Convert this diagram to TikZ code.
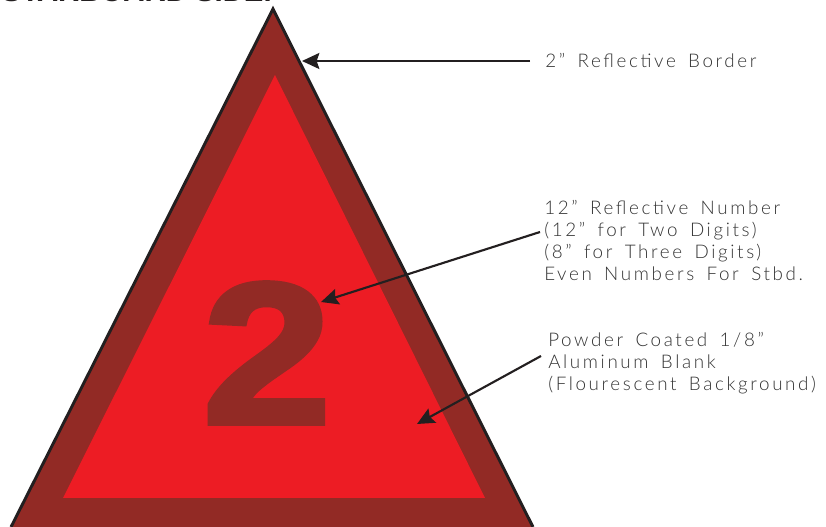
\documentclass[tikz,border=0pt]{standalone}
\usepackage{fontspec}
\usepackage{xcolor}
\usetikzlibrary{arrows.meta}
\setmainfont{Liberation Sans}
\newfontfamily\notefont[LetterSpace=14,WordSpace=1.6]{Lato Light}
\newfontfamily\digitfont[FakeBold=2.5]{Liberation Sans Bold}
\definecolor{signred}{HTML}{ED1C24}
\definecolor{borderred}{HTML}{922A25}
\definecolor{inkblack}{HTML}{231F20}
\begin{document}
\begin{tikzpicture}[
  x=0.75pt,y=-0.75pt,
  note/.style={anchor=north west,align=left,inner sep=0pt,font=\notefont\fontsize{14.1}{16.4}\selectfont,text=black!80},
  arr/.style={-{Stealth[length=13pt,width=12pt,inset=2pt]},draw=inkblack,line width=1.6pt}
]
\useasboundingbox (0,0) rectangle (826,527);
\fill[borderred] (273,9) -- (533,527) -- (11,527) -- cycle;
\draw[inkblack,line width=2.2pt] (11,527) -- (273,9) -- (533,527);
\fill[signred] (275,75) -- (485,498) -- (63,498) -- cycle;
\node[inner sep=0pt,anchor=center,xscale=1.15,transform shape,text=borderred,font=\digitfont\fontsize{151}{151}\selectfont] (digit) at (267,353) {2};
\node[anchor=base east,inner sep=0pt,font=\bfseries\fontsize{22}{22}\selectfont,text=inkblack] (title) at (272,2) {STARBOARD SIDE.};
% labels
\node[note] (border) at (545,53) {2” Reflective Border};
\node[note] (number) at (544,200) {12” Reflective Number\\(12” for Two Digits)\\(8” for Three Digits)\\Even Numbers For Stbd.};
\node[note] (blank) at (548,332) {Powder Coated 1/8”\\Aluminum Blank\\(Flourescent Background)};
\coordinate (bordertip) at (302,61);
\coordinate (numbertip) at (321,302);
\coordinate (blanktip) at (417,424);
\coordinate (bordertail) at (530,61);
\coordinate (numbertail) at (540,232);
\coordinate (blanktail) at (541,356);
\draw[arr] (bordertail) -- (bordertip);
\draw[arr] (numbertail) -- (numbertip);
\draw[arr] (blanktail) -- (blanktip);
\end{tikzpicture}
\end{document}
